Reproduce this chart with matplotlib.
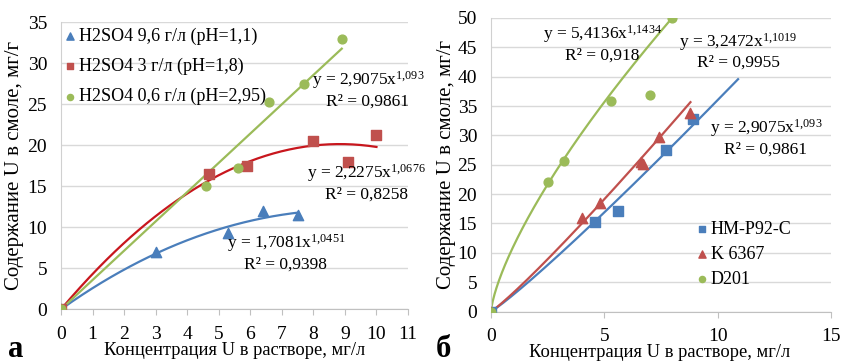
import numpy as np
import matplotlib
matplotlib.use("Agg")
import matplotlib.pyplot as plt

plt.rcParams['font.family'] = ['Liberation Serif', 'DejaVu Serif']
plt.rcParams['mathtext.fontset'] = 'custom'
plt.rcParams['mathtext.rm'] = 'Liberation Serif'
plt.rcParams['mathtext.it'] = 'Liberation Serif:italic'
plt.rcParams['mathtext.bf'] = 'Liberation Serif:bold'

# ---- Panel a data ----
a_labels = ["H2SO4 9,6 г/л (pH=1,1)", "H2SO4 3 г/л (pH=1,8)", "H2SO4 0,6 г/л (pH=2,95)"]
a1_x = [0, 3.0, 5.3, 6.4, 7.5]
a1_y = [0, 7.0, 9.3, 12.0, 11.5]
a2_x = [0, 4.7, 5.9, 8.0, 9.1, 10.0]
a2_y = [0, 16.5, 17.5, 20.5, 18.0, 21.2]
a3_x = [0, 4.6, 5.6, 6.6, 7.7, 8.9]
a3_y = [0, 15.0, 17.2, 25.3, 27.5, 33.0]
a_eqs = ["y = 1,7081x$^{\\mathrm{1{,}0451}}$\nR² = 0,9398",
         "y = 2,2275x$^{\\mathrm{1{,}0676}}$\nR² = 0,8258",
         "y = 2,9075x$^{\\mathrm{1{,}093}}$\nR² = 0,9861"]
a_xticks = list(range(0, 12))
a_yticks = list(range(0, 40, 5))

# ---- Panel b data ----
b_labels = ["HM-P92-C", "K 6367", "D201"]
b1_x = [0, 4.6, 5.6, 7.7, 8.9]
b1_y = [0, 15.2, 17.2, 27.5, 32.8]
b2_x = [0, 4.0, 4.8, 6.6, 6.7, 7.4, 8.8]
b2_y = [0, 16.0, 18.5, 25.5, 25.2, 29.7, 33.8]
b3_x = [0, 2.5, 3.2, 5.3, 7.0, 8.0]
b3_y = [0, 22.0, 25.7, 35.8, 36.8, 50.0]
b1_coef = (2.9075, 1.093)
b2_coef = (3.2472, 1.1019)
b3_coef = (11.2, 0.72)   # trend curve as drawn in the picture
b_eqs = ["y = 2,9075x$^{\\mathrm{1{,}093}}$\nR² = 0,9861",
         "y = 3,2472x$^{\\mathrm{1{,}1019}}$\nR² = 0,9955",
         "y = 5,4136x$^{\\mathrm{1{,}1434}}$\nR² = 0,918"]
b_xticks = [0, 5, 10, 15]
b_yticks = list(range(0, 55, 5))

BLUE = "#4A7EBB"
RED_M = "#C0504D"
GREEN = "#9BBB59"
RED_L = "#C8161D"

fig = plt.figure(figsize=(8.41, 3.63), dpi=100)
ax1 = fig.add_axes([61/841, 1-309.3/363, 347/841, 287/363])
ax2 = fig.add_axes([491/841, 1-311.5/363, 340/841, 293.5/363])

FS = 14
LEGFS = 13
LFS = 13.3
YLFS = 15
EFS = 12.5

def style(ax, xt, yt, xlim, ylim):
    ax.set_xlim(*xlim)
    ax.set_ylim(*ylim)
    ax.set_xticks(xt)
    ax.set_yticks(yt)
    ax.grid(axis='y', color='#d9d9d9', lw=1)
    ax.set_axisbelow(True)
    for s in ['top', 'right']:
        ax.spines[s].set_visible(False)
    ax.spines['left'].set_color('#d0d0d0')
    ax.spines['bottom'].set_color('#c0c0c0')
    ax.tick_params(axis='y', length=0, pad=10, labelsize=FS)
    ax.tick_params(axis='x', length=4, color='#c0c0c0', pad=8, labelsize=FS, direction='out')

style(ax1, a_xticks, a_yticks, (0, 11), (0, 35))
style(ax2, b_xticks, b_yticks, (0, 15), (0, 50))

def origin_poly(x, y, deg):
    x = np.asarray(x, float); y = np.asarray(y, float)
    A = np.vstack([x ** k for k in range(1, deg + 1)]).T
    c, *_ = np.linalg.lstsq(A, y, rcond=None)
    return lambda t: sum(c[k - 1] * t ** k for k in range(1, deg + 1))

# Panel a trends
xs = np.linspace(0, max(a1_x), 200)
ax1.plot(xs, origin_poly(a1_x, a1_y, 3)(xs), color=BLUE, lw=1.6, zorder=2)
xs = np.linspace(0, max(a2_x), 200)
ax1.plot(xs, origin_poly(a2_x, a2_y, 2)(xs), color=RED_L, lw=1.6, zorder=2)
xs = np.linspace(0, max(a3_x), 200)
ax1.plot(xs, origin_poly(a3_x, a3_y, 1)(xs), color=GREEN, lw=1.6, zorder=2)

ax1.scatter(a1_x, a1_y, marker='^', s=55, color=BLUE, label=a_labels[0], zorder=3)
ax1.scatter(a2_x, a2_y, marker='s', s=45, color=RED_M, label=a_labels[1], zorder=3)
ax1.scatter(a3_x, a3_y, marker='o', s=40, color=GREEN, label=a_labels[2], zorder=3)

ax1.legend(loc='upper left', bbox_to_anchor=(-0.031, 1.02), frameon=False, fontsize=LEGFS,
           handletextpad=0.0, handlelength=1.0, labelspacing=0.72, markerscale=0.7,
           borderaxespad=0.2)

ax1.text(7.13, 6.9, a_eqs[0], fontsize=EFS, ha='center', va='center', linespacing=1.2)
ax1.text(9.67, 15.5, a_eqs[1], fontsize=EFS, ha='center', va='center', linespacing=1.2)
ax1.text(9.73, 26.8, a_eqs[2], fontsize=EFS, ha='center', va='center', linespacing=1.2)

ax1.set_xlabel("Концентрация U в растворе, мг/л", fontsize=LFS)
ax1.xaxis.set_label_coords(0.501, -0.143)
ax1.xaxis.label.set_va('center')
ax1.set_ylabel("Содержание U в смоле, мг/г", fontsize=YLFS)
ax1.yaxis.set_label_coords((15 - 61) / 347, 0.5)
ax1.yaxis.label.set_va('center')

# Panel b trends
xs = np.linspace(0, 10.9, 200)
ax2.plot(xs, b1_coef[0] * xs ** b1_coef[1], color=BLUE, lw=1.6, zorder=2)
xs = np.linspace(0, 8.8, 200)
ax2.plot(xs, b2_coef[0] * xs ** b2_coef[1], color=RED_M, lw=1.6, zorder=2)
xs = np.linspace(0, max(b3_x), 300)
ax2.plot(xs, b3_coef[0] * xs ** b3_coef[1], color=GREEN, lw=1.6, zorder=2)

ax2.scatter(b1_x, b1_y, marker='s', s=45, color=BLUE, label=b_labels[0], zorder=3)
ax2.scatter(b2_x, b2_y, marker='^', s=55, color=RED_M, label=b_labels[1], zorder=3)
ax2.scatter(b3_x, b3_y, marker='o', s=40, color=GREEN, label=b_labels[2], zorder=3)

ax2.legend(loc='lower left', bbox_to_anchor=(0.545, 0.025), frameon=False, fontsize=LEGFS,
           handletextpad=0.0, handlelength=1.0, labelspacing=0.45, markerscale=0.7)

ax2.text(12.13, 29.7, b_eqs[0], fontsize=EFS, ha='center', va='center', linespacing=1.2)
ax2.text(10.9, 44.4, b_eqs[1], fontsize=EFS, ha='center', va='center', linespacing=1.2)
ax2.text(4.9, 45.7, b_eqs[2], fontsize=EFS, ha='center', va='center', linespacing=1.2)

ax2.set_xlabel("Концентрация U в растворе, мг/л", fontsize=LFS)
ax2.xaxis.set_label_coords(0.497, -0.138)
ax2.xaxis.label.set_va('center')
ax2.set_ylabel("Содержание U в смоле, мг/г", fontsize=YLFS)
ax2.yaxis.set_label_coords((447 - 491) / 340, 0.5)
ax2.yaxis.label.set_va('center')

fig.text(8/841, 1-357/363, "а", fontsize=22, fontweight='bold', ha='left', va='baseline')
fig.text(436/841, 1-357/363, "б", fontsize=22, fontweight='bold', ha='left', va='baseline')

fig.savefig("out.png", dpi=100)
